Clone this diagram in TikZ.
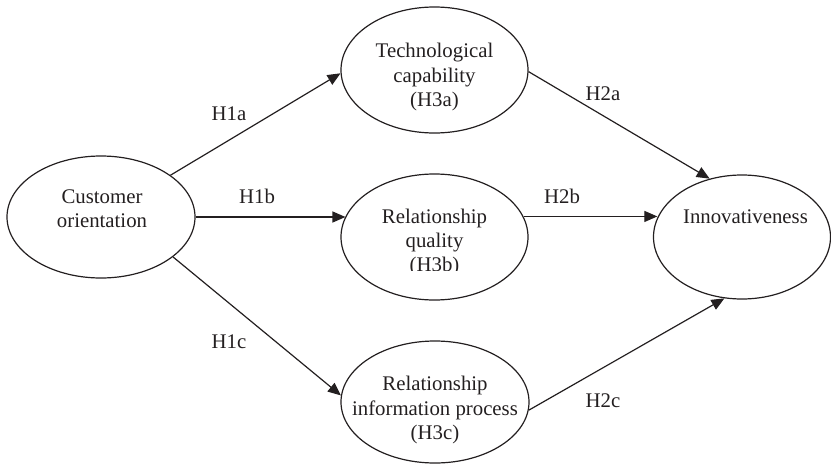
\documentclass[tikz,border=0pt]{standalone}
\usepackage{fontspec}
\setmainfont{Liberation Serif}
\usetikzlibrary{arrows.meta,shapes.geometric}
\definecolor{ink}{HTML}{231F20}
\begin{document}
\begin{tikzpicture}[x=1pt,y=-1pt,
  oval/.style={ellipse, draw=ink, line width=1.2pt, inner sep=0pt},
  txt/.style={font=\fontsize{20.8}{24.2}\selectfont, text=ink, align=center, inner sep=0pt},
  lbl/.style={font=\fontsize{20.8}{24.2}\selectfont, text=ink, inner sep=0pt, anchor=base},
  link/.style={draw=ink, line width=1.2pt, -{Triangle[length=13pt,width=11pt]}}]
\useasboundingbox (0,0) rectangle (831,464);
% ellipses
\node[oval, minimum width=188pt, minimum height=122pt] (co) at (101,217) {};
\node[oval, minimum width=187pt, minimum height=126pt] (tc) at (434.5,70) {};
\node[oval, minimum width=187pt, minimum height=126pt] (rq) at (434.5,237) {};
\node[oval, minimum width=188pt, minimum height=122pt] (rip) at (435,402) {};
\node[oval, minimum width=177pt, minimum height=124pt] (inn) at (742,237) {};
% texts
\node[txt] (cot) at (102,209) {Customer\\orientation};
\node[txt] (tct) at (434.5,77) {Technological\\capability\\(H3a)};
\begin{scope}
  \clip (300,150) rectangle (570,270.5);
  \node[txt] (rqt) at (434.5,242.5) {Relationship\\quality\\(H3b)};
\end{scope}
\node[txt] (ript) at (435,410) {Relationship\\information process\\(H3c)};
\node[lbl] (innt) at (745.5,223) {Innovativeness};
% connectors
\draw[link] (co.31) -- (tc.182);
\draw[link] (co.east) -- (co.east -| rq.167);
\draw[link] (co.-29) -- (rip.176);
\draw[link] (tc.-1) -- (inn.119);
\draw[link] (rq.13) -- (rq.13 -| inn.167);
\draw[link] (rip.-5) -- (inn.254);
% labels
\node[lbl] (h1a) at (229,120) {H1a};
\node[lbl] (h1b) at (257,203) {H1b};
\node[lbl] (h1c) at (229,348) {H1c};
\node[lbl] (h2a) at (603,100) {H2a};
\node[lbl] (h2b) at (562,203) {H2b};
\node[lbl] (h2c) at (603,407) {H2c};
\end{tikzpicture}
\end{document}
